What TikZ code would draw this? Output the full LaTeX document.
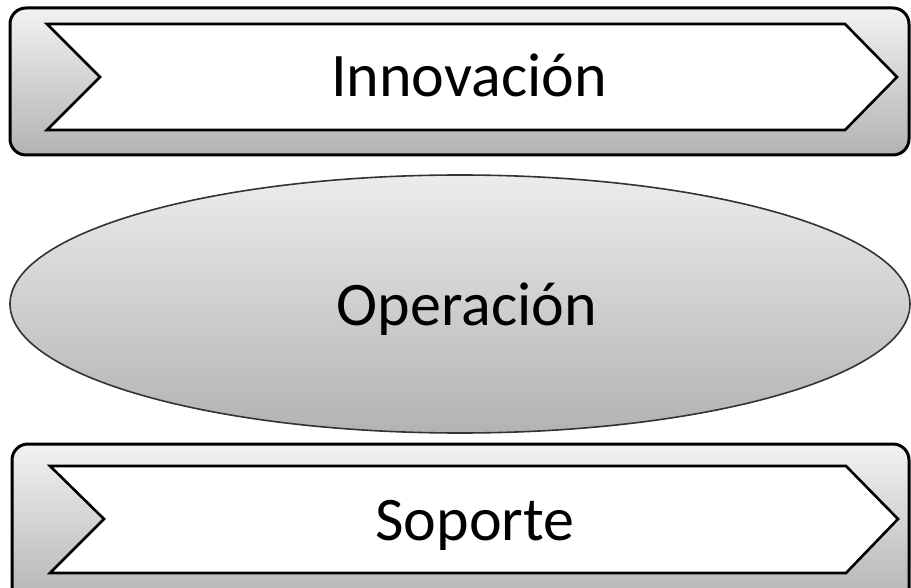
\documentclass[tikz,border=0pt]{standalone}
\usepackage{fontspec}
\setmainfont{Carlito}
\usetikzlibrary{shapes.geometric}
\begin{document}
\begin{tikzpicture}[x=1pt,y=-1pt,
  outerbox/.style={draw=black,line width=3pt,rounded corners=16pt,top color=gray!10,bottom color=gray!60},
  chevron/.style={draw=black,line width=2.6pt,fill=white,line join=miter},
  label/.style={font=\fontsize{62}{74}\selectfont,text=black,inner sep=0pt,anchor=base}]
\useasboundingbox (0,0) rectangle (911,588);
\clip (0,0) rectangle (911,588);
% top group
\draw[outerbox] (10,8) rectangle (909,155);
\draw[chevron] (47,24) -- (845,24) -- (897,77) -- (845,130) -- (47,130) -- (100,77) -- cycle;
\node[label] (inno) at (469,97) {Innovación};
% middle ellipse
\node[ellipse,draw=black!80,line width=1.6pt,top color=gray!15,bottom color=gray!60,
      minimum width=900pt,minimum height=258pt,inner sep=0pt] (opel) at (460,304) {};
\node[label] (oper) at (467,326) {Operación};
% bottom group
\draw[outerbox] (12,444) rectangle (909,605);
\draw[chevron] (50,466) -- (846,466) -- (898,519) -- (846,573) -- (50,573) -- (104,519) -- cycle;
\node[label] (sop) at (475,540) {Soporte};
\end{tikzpicture}
\end{document}
